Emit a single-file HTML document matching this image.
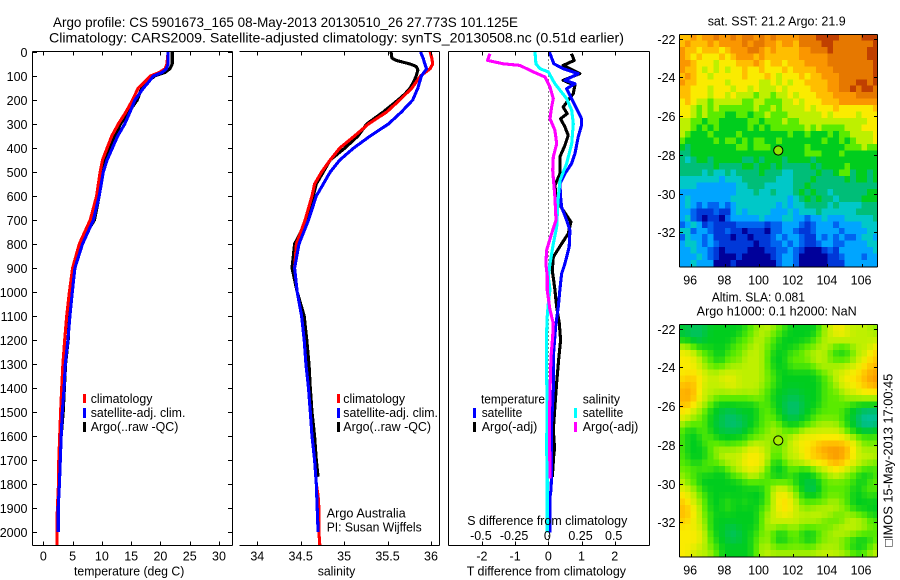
<!DOCTYPE html>
<html lang="en">
<head>
<meta charset="utf-8">
<title>Argo profile</title>
<style>
html,body{margin:0;padding:0;background:#fff;}
svg{display:block;}
text{font-family:"Liberation Sans",sans-serif;font-size:12.5px;fill:#000;}
.title{font-size:14px;}
</style>
</head>
<body>
<svg id="fig" xmlns="http://www.w3.org/2000/svg" width="900" height="580" viewBox="0 0 900 580">
<defs>
<clipPath id="clip-sst"><rect x="679.5" y="34.5" width="198" height="232"/></clipPath>
<clipPath id="clip-sla"><rect x="679.5" y="324.5" width="198" height="232"/></clipPath>
</defs>
<text class="title" x="53" y="27" textLength="465" lengthAdjust="spacingAndGlyphs">Argo profile: CS 5901673_165 08-May-2013 20130510_26 27.773S 101.125E</text>
<text class="title" x="49" y="42.5" textLength="575" lengthAdjust="spacingAndGlyphs">Climatology: CARS2009. Satellite-adjusted climatology: synTS_20130508.nc (0.51d earlier)</text>

<g id="panels"></g>
<g id="maps"></g>

<g>
<rect x="83" y="394" width="3" height="9" fill="#f00"/>
<rect x="83" y="408" width="3" height="10" fill="#00f"/>
<rect x="83" y="422" width="3" height="10" fill="#000"/>
<text x="90.7" y="403" textLength="61.7" lengthAdjust="spacingAndGlyphs">climatology</text>
<text x="90.7" y="417" textLength="94.7" lengthAdjust="spacingAndGlyphs">satellite-adj. clim.</text>
<text x="90.7" y="431" textLength="87.7" lengthAdjust="spacingAndGlyphs">Argo(..raw -QC)</text>
</g>
<g>
<rect x="337" y="394" width="3" height="9" fill="#f00"/>
<rect x="337" y="408" width="3" height="10" fill="#00f"/>
<rect x="337" y="422" width="3" height="10" fill="#000"/>
<text x="343.3" y="403" textLength="61.7" lengthAdjust="spacingAndGlyphs">climatology</text>
<text x="343.3" y="417" textLength="94.7" lengthAdjust="spacingAndGlyphs">satellite-adj. clim.</text>
<text x="343.3" y="431" textLength="87.7" lengthAdjust="spacingAndGlyphs">Argo(..raw -QC)</text>
</g>
<text x="326.7" y="517.7" textLength="79" lengthAdjust="spacingAndGlyphs">Argo Australia</text>
<text x="326.7" y="531.7" textLength="95" lengthAdjust="spacingAndGlyphs">PI: Susan Wijffels</text>

<g>
<text x="481" y="403.3" textLength="64" lengthAdjust="spacingAndGlyphs">temperature</text>
<rect x="473" y="408" width="3" height="10" fill="#00f"/>
<text x="481.7" y="417" textLength="40.6" lengthAdjust="spacingAndGlyphs">satellite</text>
<rect x="473" y="422" width="3" height="10" fill="#000"/>
<text x="481.7" y="431" textLength="55.6" lengthAdjust="spacingAndGlyphs">Argo(-adj)</text>
<text x="582.7" y="403.3" textLength="37.3" lengthAdjust="spacingAndGlyphs">salinity</text>
<rect x="574" y="408" width="3" height="10" fill="#0ff"/>
<text x="582.7" y="417" textLength="40.6" lengthAdjust="spacingAndGlyphs">satellite</text>
<rect x="574" y="422" width="3" height="10" fill="#f0f"/>
<text x="582.7" y="431" textLength="55.6" lengthAdjust="spacingAndGlyphs">Argo(-adj)</text>
</g>

<text x="74" y="575.5" textLength="110.3" lengthAdjust="spacingAndGlyphs">temperature (deg C)</text>
<text x="317.7" y="575.5" textLength="37.6" lengthAdjust="spacingAndGlyphs">salinity</text>
<text x="467.3" y="525" textLength="160" lengthAdjust="spacingAndGlyphs">S difference from climatology</text>
<text x="466.7" y="575.5" textLength="159.3" lengthAdjust="spacingAndGlyphs">T difference from climatology</text>

<text x="707.7" y="25.7" textLength="138" lengthAdjust="spacingAndGlyphs">sat. SST: 21.2 Argo: 21.9</text>
<text x="711.7" y="301.7" textLength="93.3" lengthAdjust="spacingAndGlyphs">Altim. SLA: 0.081</text>
<text x="696.7" y="315.7" textLength="160" lengthAdjust="spacingAndGlyphs">Argo h1000: 0.1 h2000: NaN</text>
<text transform="translate(892.5,546.7) rotate(-90)" x="0" y="0" textLength="173" lengthAdjust="spacingAndGlyphs" style="font-family:'Liberation Sans','DejaVu Sans',sans-serif">□IMOS 15-May-2013 17:00:45</text>
</svg>

<script>
// ---------- Profile data (depth in dbar; temperature deg C; salinity psu) ----------
const tempDepths = [0,50,70,85,100,125,150,200,250,300,350,400,450,500,600,700,800,900,1000,1100,1200,1300,1400,1500,1600,1700,1800,1900,2000,2055];
const tempClim = [21.3,21.1,20.8,19.8,18.3,17.3,16.2,15.25,14.1,12.8,11.7,10.9,10.1,9.7,9.1,8.0,6.15,5.0,4.45,4.0,3.65,3.35,3.15,2.95,2.8,2.65,2.6,2.4,2.3,2.35];
const tempSat = [21.3,21.3,21.0,20.3,18.8,18.0,17.1,15.65,14.8,13.9,12.7,11.8,10.9,10.25,9.55,8.55,6.7,5.4,4.95,4.55,4.2,3.75,3.55,3.25,3.05,2.9,2.75,2.55,2.55];
const tempArgo = [22.0,22.0,21.6,20.8,19.0,17.8,16.8,16.05,14.6,13.2,12.2,11.4,10.5,10.0,9.55,8.75,6.25,5.0,4.7,4.4,4.25,3.8,3.6,3.4,3.05,2.9,2.65];

const salClimDepths = [0,25,50,70,100,150,200,250,300,350,400,450,500,550,600,700,800,900,1000,1100,1200,1300,1400,1500,1600,1700,1800,1850,1900,2000,2055];
const salClim = [35.99,36.01,36.02,35.99,35.88,35.78,35.64,35.49,35.28,35.12,34.95,34.84,34.74,34.66,34.63,34.55,34.45,34.43,34.46,34.51,34.54,34.56,34.59,34.61,34.63,34.66,34.68,34.70,34.71,34.71,34.72];
const salSatDepths = [0,25,50,70,100,150,200,250,300,350,400,450,500,550,600,700,800,900,1000,1100,1200,1300,1400,1500,1600,1700,1800,1900,2000];
const salSat = [35.88,35.91,35.93,35.95,35.89,35.85,35.79,35.66,35.51,35.30,35.11,34.95,34.84,34.76,34.68,34.59,34.48,34.43,34.46,34.51,34.54,34.56,34.59,34.61,34.63,34.66,34.68,34.69,34.70];
const salArgoDepths = [0,25,35,50,60,75,100,125,150,175,200,250,300,350,400,450,500,550,600,700,800,850,900,950,1000,1100,1200,1300,1400,1500,1600,1700,1770];
const salArgo = [35.54,35.55,35.60,35.76,35.83,35.85,35.83,35.80,35.76,35.70,35.62,35.45,35.26,35.16,35.01,34.84,34.76,34.68,34.645,34.57,34.43,34.415,34.40,34.43,34.46,34.54,34.57,34.595,34.61,34.63,34.66,34.68,34.70];

// ---------- Difference-from-climatology data ----------
const diffTSatDepths = [0,7,49,69,90,118,132,153,194,236,278,306,354,424,465,507,549,604,646,701,743,812,882,924,990,1061,1145,1270,1409,1548,1659,1756,1825,1853,2003];
const diffTSat = [0.03,0.05,0.17,0.45,0.90,0.50,0.80,0.55,0.70,0.85,1.0,1.0,0.90,0.80,0.70,0.50,0.35,0.37,0.40,0.55,0.65,0.63,0.50,0.40,0.35,0.30,0.22,0.15,0.15,0.10,0.10,0.10,0.08,0.05,0.05];
const diffTArgoDepths = [7,35,56,90,118,139,174,201,229,257,278,312,347,389,437,507,556,618,660,708,757,799,854,910,990,1061,1131,1200,1284,1381,1478,1575,1652,1672,1770];
const diffTArgo = [0.70,0.78,0.45,0.95,0.45,0.80,0.75,0.60,0.45,0.57,0.37,0.50,0.60,0.50,0.35,0.35,0.20,0.25,0.45,0.68,0.60,0.40,0.15,0.12,0.20,0.25,0.33,0.37,0.31,0.25,0.20,0.15,0.19,0.17,0.12];
const diffSSatDepths = [0,49,69,83,132,194,243,299,382,465,535,604,674,729,799,882,937,990,1048,1103,1173,1339,1478,1645,1756,2003];
const diffSSat = [-0.10,-0.093,-0.063,0,0.05,0.138,0.176,0.188,0.176,0.138,0.088,0.075,0.068,0.063,0.038,0.013,0,0.013,0,-0.008,-0.013,-0.013,-0.008,-0.013,-0.008,-0.008];
const diffSArgoDepths = [7,35,49,56,83,104,146,194,229,278,326,382,437,493,604,701,757,826,882,931,992,1075,1131,1186,1270,1409,1548,1777];
const diffSArgo = [-0.44,-0.457,-0.339,-0.214,-0.113,-0.025,0.013,0.038,0.025,0.013,0.05,0.063,0.038,0.033,0.05,0.058,0.025,-0.013,-0.018,-0.008,-0.008,0.013,0.038,0.033,0.02,0.013,0.008,0.013];

// ---------- Tick labels ----------
const depthTicks = [0,100,200,300,400,500,600,700,800,900,1000,1100,1200,1300,1400,1500,1600,1700,1800,1900,2000];
const tempTicks = [0,5,10,15,20,25,30];
const salTicks = [34,34.5,35,35.5,36];
const tDiffTicks = [-2,-1,0,1,2];
const sDiffTicks = [-0.5,-0.25,0,0.25,0.5];
const lonTicks = [96,98,100,102,104,106];
const latTicks = [-22,-24,-26,-28,-30,-32];

// ---------- Argo float position ----------
const floatLon = 101.125;
const floatLat = -27.773;

// ---------- Map grids: colour-level values, 1/3-degree cells, north to south ----------
const gridLon0 = 95.33;
const gridLat0 = -21.76;
const gridStep = 1/3;
const sstLevels = [
[10,10,11,10,11,11,12,11,11,12,11,12,12,11,12,11,12,11,11,11,11,12,12,12,13,13,13,13,12,12,12,12,13,13,13],
[10,11,10,10,10,11,10,11,11,11,11,12,11,12,12,11,11,10,11,11,10,12,12,12,12,13,13,12,12,12,12,12,12,12,13],
[11,10,10,9,10,10,10,9,10,11,11,11,12,12,11,10,11,10,10,10,10,11,11,12,12,12,13,12,12,12,12,12,12,13,13],
[11,10,9,10,9,9,9,10,9,10,11,11,11,10,11,10,10,10,10,10,10,11,11,11,11,11,12,12,12,12,12,12,12,13,13],
[11,11,10,9,9,9,8,9,9,9,10,10,10,11,10,9,10,10,9,10,10,10,11,11,11,11,12,12,12,12,12,12,12,12,13],
[11,10,10,9,8,9,8,9,8,9,9,10,9,9,10,9,9,9,10,9,10,10,10,10,11,11,11,12,12,12,12,12,12,12,13],
[10,11,10,9,9,8,9,9,9,9,9,10,9,9,9,10,9,8,9,9,9,10,9,10,10,11,11,11,12,12,12,12,12,12,13],
[11,10,10,9,9,9,9,9,8,9,9,9,9,9,8,8,9,8,9,8,9,9,10,10,10,10,11,11,12,12,12,13,13,12,13],
[10,10,9,9,9,8,9,9,9,8,9,9,8,9,8,8,8,9,8,9,9,9,9,10,10,10,11,11,12,12,13,12,13,13,12],
[10,10,9,9,9,8,9,9,8,9,8,8,8,7,8,8,7,8,8,9,8,9,9,9,10,10,10,11,11,11,11,12,12,12,12],
[9,10,9,8,8,7,8,8,8,8,8,7,7,8,8,7,7,7,8,8,9,8,9,9,9,10,10,10,11,11,11,11,11,11,11],
[9,9,8,7,8,7,8,7,7,7,7,7,7,8,7,7,8,7,8,8,8,8,9,8,9,9,9,10,9,9,9,9,9,9,10],
[9,9,8,7,8,7,7,7,6,6,7,7,6,7,7,8,7,7,7,8,8,8,8,8,8,9,8,9,9,9,9,8,9,9,9],
[8,8,7,7,6,7,7,6,6,6,6,6,7,7,6,7,7,7,8,7,7,8,8,8,8,8,8,8,8,8,8,8,8,9,9],
[8,8,7,6,7,6,7,6,6,6,6,6,7,6,7,6,7,7,7,7,7,7,8,7,8,7,7,7,7,8,8,8,9,9,9],
[8,7,6,6,6,7,6,6,6,6,7,6,6,6,6,6,6,6,6,7,6,6,7,6,6,6,7,6,7,7,8,8,8,8,9],
[7,6,6,6,6,6,7,6,7,7,6,7,6,7,7,6,6,7,6,6,6,6,6,6,6,7,6,6,7,6,7,8,8,8,9],
[6,5,6,6,6,6,6,6,6,6,7,7,6,7,7,7,6,6,6,6,6,6,7,6,6,6,6,6,6,7,7,7,8,7,7],
[5,5,6,6,6,6,6,6,6,6,6,6,6,6,6,6,6,6,6,6,6,6,7,7,7,6,6,6,7,6,6,6,6,6,6],
[5,4,5,6,6,5,6,6,6,6,6,5,5,6,5,6,6,6,5,6,6,6,6,5,6,6,6,6,6,6,6,6,6,6,6],
[5,5,5,5,5,5,6,5,5,5,5,6,6,5,6,6,5,6,5,5,5,5,5,6,5,6,6,6,6,7,6,6,6,6,6],
[5,5,5,5,4,5,4,4,5,4,5,5,5,5,6,5,5,5,4,4,5,5,5,5,6,5,5,6,7,7,5,6,6,5,6],
[4,4,4,4,4,4,4,3,4,4,4,5,5,5,5,5,5,4,4,4,5,5,5,6,5,5,5,5,5,6,5,6,6,5,6],
[4,4,4,3,3,3,3,3,3,3,4,4,5,5,5,4,4,4,4,4,5,5,6,5,5,5,5,5,5,5,5,5,5,5,5],
[3,3,3,3,3,3,3,3,3,3,4,4,4,5,4,4,5,4,4,4,5,6,5,6,5,5,4,5,5,5,5,5,5,6,6],
[3,4,3,3,3,3,3,3,3,4,4,4,4,4,4,4,4,4,4,3,4,5,6,5,6,5,5,4,5,5,5,5,6,6,6],
[3,4,3,2,3,2,2,3,2,3,4,4,4,4,4,4,4,3,4,3,4,4,5,5,5,5,4,5,4,4,4,4,5,5,5],
[3,3,2,1,1,1,2,1,1,3,4,3,4,4,4,4,3,3,3,4,3,4,4,4,5,4,4,4,4,4,4,5,5,5,5],
[3,4,2,1,0,1,1,0,2,3,3,3,3,3,4,3,3,3,4,4,3,3,2,3,3,4,3,3,3,4,4,4,4,4,5],
[2,3,4,3,1,2,1,1,1,1,2,2,2,2,2,1,2,2,3,3,3,2,1,2,3,3,3,2,3,3,3,3,4,4,4],
[4,4,2,3,3,2,1,1,2,1,1,0,1,1,1,0,2,2,3,3,2,1,1,2,3,3,3,3,2,3,3,3,3,4,4],
[2,4,3,3,2,3,1,1,1,0,1,1,0,1,1,1,2,3,2,3,3,2,1,1,3,2,3,2,3,2,2,3,4,4,3],
[3,4,4,3,2,3,2,1,1,1,1,1,1,0,1,1,2,2,3,2,3,2,1,1,2,3,3,2,2,3,3,3,3,4,4],
[3,3,4,3,3,2,1,0,1,1,1,1,0,0,0,1,1,2,2,3,2,1,0,0,0,1,2,1,3,3,3,3,3,3,4],
[3,3,3,4,3,2,1,0,0,0,1,0,0,0,0,0,1,2,3,3,2,0,0,0,0,0,1,1,2,3,3,3,2,3,3],
[3,3,4,3,3,3,0,0,0,1,0,0,0,0,0,0,0,2,3,3,2,0,0,0,0,0,1,1,1,3,3,3,3,3,3]
];
const slaLevels = [
[6,5.5,5.5,5.5,5.5,6,6,6,6,6,6,6,7,7,8,8,8,7,7,6,6,6,6,6,6,8,8,9,9,8,8,8,8,8,7],
[5.5,5.5,5,5,5.5,6,6,6,6,6,6,7,7,8,8,8,7,7,6,6,6,6,6,6,7,8,8,9,9,9,8,8,8,8,8],
[6,6,5.5,5.5,6,6,6,6,6,6,7,7,7,8,8,7,7,6,6,6,6,6,6,7,7,8,8,8,8,8,8,8,8,8,8],
[8,8,7,6,6,6,6,6,6,7,7,7,8,8,8,7,7,6,6,6,6,7,7,7,8,8,8,7,7,7,8,8,8,8,9],
[9,9,8,8,7,7,6,6,7,7,7,8,8,8,8,7,6,6,6,7,7,7,8,8,8,8,7,6,6,6,7,8,8,9,10],
[9,9,9,8,7,7,6,6,7,7,7,8,8,8,8,7,6,6,6,7,7,7,7,8,8,8,7,7,7,7,8,8,9,9,10],
[9,9,9,8,8,7,7,7,8,8,8,8,8,8,8,7,6,6,6,7,7,7,7,7,8,8,8,8,8,8,8,9,9,10,10],
[9,9,9,9,8,8,8,8,8,8,8,8,8,8,8,7,7,6,6,6,6,6,6,6,7,7,8,8,8,9,9,9,10,10,11],
[9,10,10,9,9,8,8,9,9,9,8,8,8,8,8,7,7,6,6,6,6,6,6,6,6,7,7,8,9,9,9,10,10,11,11],
[10,10,10,9,8,8,8,8,8,9,8,8,8,8,8,7,7,6,6,6,6,6,6,6,6,7,7,8,8,9,9,9,10,10,11],
[10,11,10,9,8,8,8,8,8,8,8,8,8,8,7,7,6,6,6,5.5,5.5,6,6,6,6,7,7,7,8,8,8,9,9,9,9],
[10,11,10,9,8,8,7,7,7,7,7,7,7,8,7,7,6,6,5.5,5.5,5.5,5.5,6,6,6,7,7,7,7,8,8,8,8,8,8],
[10,10,9,8,8,7,6,6,6,6,6,6,6,6,7,7,6,6,5.5,5,5,5.5,6,6,6,7,7,7,7,7,6,6,6,6,6],
[9,9,8,8,7,6,6,5.5,5.5,5.5,6,6,6,6,7,7,7,6,5.5,5,5,5.5,6,6,7,7,7,7,7,6,6,5.5,5,5,5],
[9,8,8,7,7,6,6,5.5,5,5,5.5,5.5,6,6,7,7,7,6,6,5.5,5.5,6,6,7,7,7,7,7,7,6,6,5,4.5,4.5,4.5],
[8,7,7,7,7,6,5.5,5.5,5,5,5,5.5,6,6,7,7,8,7,6,6,6,6,7,7,8,8,8,8,7,6,6,5,4.5,4.5,5],
[7,6,6,7,7,6,6,5.5,5.5,5.5,5.5,6,6,7,7,7,8,8,7,7,7,8,8,8,8,8,8,8,8,7,6,6,5.5,5.5,6],
[7,6,6,6,7,7,6,6,6,6,6,6,7,7,7,8,8,7,8,8,8,9,9,9,9,9,9,9,9,8,8,7,7,7,7],
[7,6,6,6,7,7,7,7,6,7,7,7,8,8,8,8,7,7,7,8,9,9,9,9,10,10,10,10,10,10,9,8,7,7,7],
[7,6,6,6,6,7,8,8,8,8,8,8,9,9,8,8,7,7,8,8,8,9,9,10,10,11,11,11,11,10,9,8,8,8,8],
[7,6,6,6,6,7,7,8,8,8,8,9,9,9,9,8,7,7,8,8,8,9,9,10,10,10,11,11,11,10,9,8,8,8,8],
[7,7,6,6,7,7,7,8,8,8,8,9,9,9,9,8,6,6,7,8,8,8,9,9,9,9,10,10,10,9,9,8,8,8,7],
[7,7,7,7,7,7,6,6,7,8,8,9,9,9,8,7,6,6,6,7,7,6,6,7,8,8,9,9,9,8,8,7,7,6,7],
[8,7,7,6,6,6,6,6,6,7,7,7,8,8,7,7,6,6,6,7,6,6,6,6,7,7,8,8,8,7,7,6,6,6,7],
[8,7,7,6,6,6,6,6,6,6,6,7,7,7,7,7,7,7,7,7,6,6,5.5,5.5,6,7,7,7,7,7,7,6,6,7,7],
[9,8,8,7,6,6,6,6,6,6,6,6,6,6,6,7,8,9,8,8,7,6,5.5,5,6,7,7,7,7,7,6,6,7,7,7],
[9,9,8,7,7,6,6,6,6,6,6,6,6,6,6,7,8,9,9,8,8,6,6,6,6,7,7,7,7,7,6,6,6,7,6],
[10,9,8,8,7,6,6,6,7,6,6,7,6,6,6,7,8,9,10,9,8,7,7,7,7,7,8,8,7,7,6,6,6,6,6],
[10,10,9,8,7,6,6,6,7,6,6,6,6,6,7,7,8,9,9,9,8,8,7,8,8,8,8,8,8,7,6,6,6,6,6],
[10,10,9,8,7,7,6,6,6,6,6,6,6,6,7,8,8,9,9,9,8,8,8,8,8,8,8,7,7,8,8,7,7,6,6],
[10,9,9,8,8,6,6,6,6,6,6,6,6,6,7,8,8,8,8,8,8,8,8,8,8,7,7,7,7,8,8,8,8,7,7],
[9,9,9,8,8,6,6,6,5.5,5.5,6,6,6,6,7,8,8,8,7,8,8,7,7,7,7,7,7,8,8,8,8,8,8,7,7],
[9,9,9,9,8,7,6,6,5.5,5,5.5,6,6,7,7,8,6,6,6,7,7,6,6,6,7,8,8,8,8,8,8,7,7,7,7],
[9,9,9,9,8,7,6,6,5.5,5.5,5.5,6,6,7,7,8,7,6,6,7,7,7,6,6,7,7,7,8,7,7,6,6,6,6,7],
[9,9,9,8,8,7,7,6,6,6,6,6,6,7,8,8,7,7,7,7,7,7,7,7,8,8,8,8,7,7,6,6,6,7,8],
[9,9,8,8,8,8,7,6,6,6,6,6,6,7,8,8,8,8,8,8,8,8,8,8,8,8,8,8,8,8,7,7,7,8,8]
];
const levelColors = ["#00009a","#0038d8","#0064f0","#00a5ff","#00c8c8","#00be78","#00cd1e","#5aeb00","#bef000","#faeb00","#ffbe00","#fa9600","#e67800","#c04000"];

// ---------- Axis functions ----------
function depthY(d){ return 52 + d*0.24; }
function tempX(t){ return 43.3 + t*5.857; }
function salX(s){ return 257.3 + (s-34)*86.83; }
function tDiffX(t){ return 548.3 + t*33.2; }
function sDiffX(s){ return 548.3 + s*132.8; }
function lonX(lon){ return 690.7 + (lon-96)*17.09; }
function latY(lat,top){ return top + 4.7 + (-22-lat)*19.37; }

// ---------- Helpers ----------
const NS = "http://www.w3.org/2000/svg";
const panels = document.getElementById("panels");
const maps = document.getElementById("maps");
function mk(parent, tag, attrs){
  const el = document.createElementNS(NS, tag);
  for (const k in attrs) el.setAttribute(k, attrs[k]);
  parent.appendChild(el);
  return el;
}
function hLine(parent, x1, x2, y, name){
  const el = mk(parent, "line", {x1:x1, x2:x2, y1:y, y2:y, stroke:"#000", "stroke-width":1, "shape-rendering":"crispEdges"});
  
  
}
function vLine(parent, x, y1, y2, name){
  const el = mk(parent, "line", {x1:x, x2:x, y1:y1, y2:y2, stroke:"#000", "stroke-width":1, "shape-rendering":"crispEdges"});
  
  
}
function label(parent, x, y, str, anchor, name){
  const el = mk(parent, "text", {x:x, y:y, "text-anchor":anchor});
  el.textContent = str;
  
  
}
function series(depths, values, xFn, color, width, name){
  const pts = [];
  for (let i=0;i<values.length;i++) pts.push(xFn(values[i]).toFixed(1)+","+depthY(depths[i]).toFixed(1));
  const el = mk(panels, "polyline", {points:pts.join(" "), fill:"none", stroke:color, "stroke-width":width, "stroke-linejoin":"round", "shape-rendering":"crispEdges"});
  
  
}
function fmt(v){ return String(v); }

const axTop = 51.5, axBot = 545.5;
const lineW = 3.1;

// ---------- Temperature panel ----------
series(tempDepths, tempArgo, tempX, "#000", lineW, "temperature-argo-line");
series(tempDepths, tempClim, tempX, "#f00", lineW, "temperature-climatology-line");
series(tempDepths, tempSat, tempX, "#00f", lineW, "temperature-satellite-line");
hLine(panels, 32.5, 232.5, axTop, "temperature-top-axis");
hLine(panels, 32.5, 232.5, axBot, "temperature-bottom-axis");
vLine(panels, 32.5, axTop, axBot, "depth-axis");
vLine(panels, 232.5, axTop, axBot, "temperature-right-axis");
depthTicks.forEach(function(d){
  const y = Math.round(depthY(d))+0.5;
  hLine(panels, 32.5, 37, y, "depth-tick");
  hLine(panels, 228, 232.5, y, "depth-tick-right");
  label(panels, 27.5, y+4.5, fmt(d), "end", "depth-tick-label");
});
tempTicks.forEach(function(t){
  const x = Math.round(tempX(t))+0.5;
  vLine(panels, x, axTop, axTop+4, "temperature-tick-top");
  vLine(panels, x, axBot-4, axBot, "temperature-tick-bottom");
  label(panels, tempX(t), 560.7, fmt(t), "middle", "temperature-tick-label");
});

// ---------- Salinity panel ----------
series(salArgoDepths, salArgo, salX, "#000", lineW, "salinity-argo-line");
series(salClimDepths, salClim, salX, "#f00", lineW, "salinity-climatology-line");
series(salSatDepths, salSat, salX, "#00f", lineW, "salinity-satellite-line");
hLine(panels, 239.5, 439.5, axTop, "salinity-top-axis");
hLine(panels, 239.5, 439.5, axBot, "salinity-bottom-axis");
vLine(panels, 439.5, axTop, axBot, "salinity-right-axis");
salTicks.forEach(function(s){
  const x = Math.round(salX(s))+0.5;
  vLine(panels, x, axTop, axTop+4, "salinity-tick-top");
  vLine(panels, x, axBot-4, axBot, "salinity-tick-bottom");
  label(panels, salX(s), 560.7, fmt(s), "middle", "salinity-tick-label");
});

// ---------- Difference panel ----------
const zeroLine = mk(panels, "line", {x1:tDiffX(0), x2:tDiffX(0), y1:axTop, y2:axBot, stroke:"#000", "stroke-width":1, "stroke-dasharray":"1 3", "shape-rendering":"crispEdges"});


series(diffTArgoDepths, diffTArgo, tDiffX, "#000", lineW, "t-difference-argo-line");
series(diffTSatDepths, diffTSat, tDiffX, "#00f", lineW, "t-difference-satellite-line");
series(diffSSatDepths, diffSSat, sDiffX, "#0ff", lineW, "s-difference-satellite-line");
series(diffSArgoDepths, diffSArgo, sDiffX, "#f0f", lineW, "s-difference-argo-line");
hLine(panels, 448.5, 649.5, axTop, "difference-top-axis");
hLine(panels, 448.5, 649.5, axBot, "difference-bottom-axis");
vLine(panels, 448.5, axTop, axBot, "difference-left-axis");
vLine(panels, 649.5, axTop, axBot, "difference-right-axis");
tDiffTicks.forEach(function(t){
  const x = Math.round(tDiffX(t))+0.5;
  vLine(panels, x, axTop, axTop+4, "t-difference-tick-top");
  vLine(panels, x, axBot-4, axBot, "t-difference-tick-bottom");
  label(panels, tDiffX(t), 560.7, fmt(t), "middle", "t-difference-tick-label");
});
sDiffTicks.forEach(function(s){
  label(panels, sDiffX(s)-1, 540, fmt(s), "middle", "s-difference-tick-label");
});

// ---------- Maps ----------
function levelColor(v){
  const a = Math.max(0, Math.min(levelColors.length-1, Math.floor(v)));
  const b = Math.min(levelColors.length-1, a+1);
  const f = Math.max(0, Math.min(1, v-a));
  const pa = parseInt(levelColors[a].slice(1),16), pb = parseInt(levelColors[b].slice(1),16);
  const r = Math.round((pa>>16)*(1-f)+(pb>>16)*f);
  const g = Math.round(((pa>>8)&255)*(1-f)+((pb>>8)&255)*f);
  const bl = Math.round((pa&255)*(1-f)+(pb&255)*f);
  return "rgb("+r+","+g+","+bl+")";
}
// The SLA field is a smooth analysis: shade each cell with a small neighbourhood average.
function shadedValue(levels, r, c){
  let sum = 0, wt = 0;
  for (let dr=-1; dr<=1; dr++) for (let dc=-1; dc<=1; dc++){
    const row = levels[r+dr];
    if (!row || row[c+dc]===undefined) continue;
    const w = (dr===0?2:1)*(dc===0?2:1);
    sum += row[c+dc]*w; wt += w;
  }
  return sum/wt;
}
function drawMap(levels, smooth, top, bottom, clipId, prefix, markerFill){
  const g = mk(maps, "g", {"clip-path":"url(#"+clipId+")"});
  
  
  levels.forEach(function(row, r){
    row.forEach(function(v, c){
      const lon = gridLon0 + c*gridStep, lat = gridLat0 - r*gridStep;
      const x1 = lonX(lon), x2 = lonX(lon+gridStep);
      const y1 = latY(lat, top), y2 = latY(lat-gridStep, top);
      const shade = smooth ? shadedValue(levels, r, c) : v;
      const cell = mk(g, "rect", {x:x1.toFixed(2), y:y1.toFixed(2), width:(x2-x1+0.4).toFixed(2), height:(y2-y1+0.4).toFixed(2), fill:levelColor(shade), "shape-rendering":"crispEdges"});
      
      
    });
  });
  hLine(maps, 679.5, 877.5, top+0.5, prefix+"-top-axis");
  hLine(maps, 679.5, 877.5, bottom+0.5, prefix+"-bottom-axis");
  vLine(maps, 679.5, top+0.5, bottom+0.5, prefix+"-left-axis");
  vLine(maps, 877.5, top+0.5, bottom+0.5, prefix+"-right-axis");
  lonTicks.forEach(function(lon){
    const x = Math.round(lonX(lon))+0.5;
    vLine(maps, x, top+0.5, top+3.5, prefix+"-lon-tick-top");
    vLine(maps, x, bottom-2.5, bottom+0.5, prefix+"-lon-tick-bottom");
    label(maps, lonX(lon)-0.5, bottom+18, fmt(lon), "middle", prefix+"-lon-tick-label");
  });
  latTicks.forEach(function(lat){
    const y = Math.round(latY(lat, top))+0.5;
    hLine(maps, 679.5, 683, y, prefix+"-lat-tick-left");
    hLine(maps, 874, 877.5, y, prefix+"-lat-tick-right");
    label(maps, 675.5, y+4.5, fmt(lat), "end", prefix+"-lat-tick-label");
  });
  const m = mk(maps, "circle", {cx:lonX(floatLon), cy:latY(floatLat, top), r:4.6, fill:markerFill, stroke:"#000", "stroke-width":1});
  
  
}
drawMap(sstLevels, false, 34, 266.5, "clip-sst", "sst", "#8ce600");
drawMap(slaLevels, true, 324, 556.5, "clip-sla", "sla", "#a8f000");
</script>
</body>
</html>
